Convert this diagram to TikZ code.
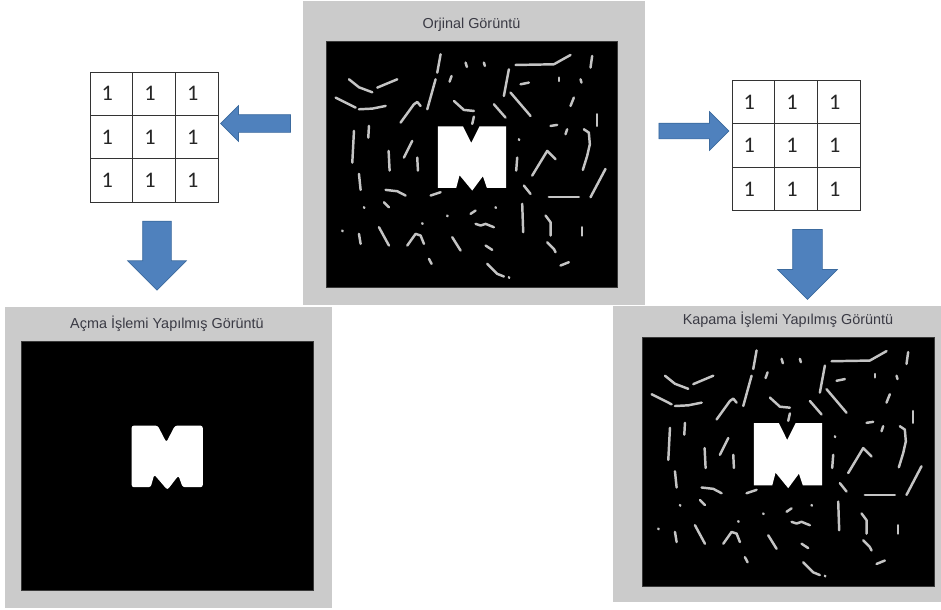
\documentclass[tikz,border=0pt]{standalone}
\usepackage{fontspec}
\setmainfont{Liberation Sans}
\newfontfamily\digitfont{Carlito}
\usetikzlibrary{shapes.arrows, matrix, positioning}

\definecolor{panelgray}{HTML}{CBCBCB}
\definecolor{arrowblue}{HTML}{4F81BD}
\definecolor{arrowedge}{HTML}{3B6A9E}
\definecolor{titlegray}{HTML}{3A3A44}
\definecolor{dashgray}{HTML}{C4C4C4}

\tikzset{
  panel/.style={fill=panelgray},
  photo/.style={fill=black, draw=gray!45!black, line width=0.6pt},
  title/.style={text=titlegray, font=\fontsize{12.3}{14}\selectfont, inner sep=0pt},
  blockarrow/.style={single arrow, fill=arrowblue, draw=arrowedge, line width=0.6pt,
    single arrow head indent=0pt, single arrow tip angle=90},
  cell/.style={draw=black!80, line width=0.8pt, minimum width=1.28cm, minimum height=1.3cm,
    inner sep=0pt, text=black!85, font=\digitfont\fontsize{19}{20}\selectfont,
    execute at end node=\kern0.24cm},
  kernel/.style={matrix of nodes, nodes={cell}, inner sep=0pt,
    column sep=-0.8pt, row sep=-0.8pt},
  noisedash/.style={draw=dashgray, line width=2.1pt, line cap=round, line join=round}
}

% white strokes of the test picture
\newcommand{\drawnoise}{%
  \draw[noisedash] (178,238)--(208,262)--(248,277);
  \draw[noisedash] (263,263)--(323,238);
  \draw[noisedash] (138,293)--(198,323);
  \draw[noisedash] (208,328)--(248,326)--(288,318);
  \draw[noisedash] (333,368)--(373,313)--(383,306)--(393,318);
  \draw[noisedash] (453,163)--(443,218);
  \draw[noisedash] (438,238)--(413,328);
  \draw[noisedash] (480,245)--(486,228);
  \draw[noisedash] (528,188)--(532,201);
  \draw[noisedash] (583,188)--(586,198);
  \draw[noisedash] (493,303)--(523,330)--(553,333);
  \draw[noisedash] (553,350)--(548,372);
  \draw[noisedash] (193,393)--(188,488);
  \draw[noisedash] (208,522)--(213,570);
  \draw[noisedash] (238,378)--(236,413);
  \draw[noisedash] (368,423)--(343,473);
  \draw[noisedash] (297,453)--(300,512);
  \draw[noisedash] (383,473)--(385,512);
  \draw[noisedash] (288,570)--(323,574)--(348,587);
  \draw[noisedash] (423,587)--(453,577);
  \draw[noisedash] (223,622)--(224,624);
  \draw[noisedash] (283,607)--(298,622);
  \draw[noisedash] (158,692)--(159,694);
  \draw[noisedash] (208,702)--(213,732);
  \draw[noisedash] (268,682)--(298,737);
  \draw[noisedash] (353,737)--(378,702)--(393,707)--(403,732);
  \draw[noisedash] (398,670)--(399,672);
  \draw[noisedash] (418,777)--(426,792);
  \draw[noisedash] (473,647)--(474,649);
  \draw[noisedash] (488,712)--(513,752);
  \draw[noisedash] (543,642)--(558,632);
  \draw[noisedash] (558,672)--(573,677)--(588,672)--(613,682);
  \draw[noisedash] (618,622)--(619,624);
  \draw[noisedash] (588,737)--(608,750);
  \draw[noisedash] (593,792)--(623,822)--(643,830);
  \draw[noisedash] (658,832)--(659,834);
  \draw[noisedash] (703,557)--(723,582);
  \draw[noisedash] (698,612)--(701,697);
  \draw[noisedash] (778,592)--(868,592);
  \draw[noisedash] (948,507)--(903,592);
  \draw[noisedash] (768,647)--(783,667)--(783,707);
  \draw[noisedash] (773,727)--(793,747)--(798,757);
  \draw[noisedash] (878,682)--(878,707);
  \draw[noisedash] (813,797)--(838,787);
  \draw[noisedash] (678,195)--(793,193)--(843,165);
  \draw[noisedash] (908,168)--(903,203);
  \draw[noisedash] (658,208)--(643,288);
  \draw[noisedash] (693,253)--(718,248);
  \draw[noisedash] (808,233)--(808,243);
  \draw[noisedash] (873,238)--(876,248);
  \draw[noisedash] (663,278)--(723,348);
  \draw[noisedash] (613,313)--(648,353);
  \draw[noisedash] (853,293)--(843,318);
  \draw[noisedash] (923,343)--(923,378);
  \draw[noisedash] (783,378)--(803,375);
  \draw[noisedash] (833,388)--(828,403);
  \draw[noisedash] (883,388)--(898,398)--(901,433)--(893,468)--(880,510);
  \draw[noisedash] (688,418)--(689,420);
  \draw[noisedash] (728,527)--(773,453)--(798,478);
  \draw[noisedash] (683,473)--(680,512);
}
% the letter M
\newcommand{\mletter}[1][0pt]{%
  \fill[white, rounded corners=#1] (445,379) -- (520,379) -- (545,429) -- (570,379)
    -- (650,379) -- (650,564) -- (592,564) -- (580,529) -- (548,572)
    -- (510,526) -- (500,564) -- (445,564) -- cycle;
}

\begin{document}
\begin{tikzpicture}[x=0.03cm, y=-0.03cm]
\useasboundingbox (0,0) rectangle (941,610);

% gray windows
\fill[panel] (303,1) rectangle (645,305);
\fill[panel] (5,307) rectangle (332,608);
\fill[panel] (613,306) rectangle (941,602);

% images
\node[photo, minimum width=8.73cm, minimum height=7.38cm] (orig) at (471.5,164) {};
\node[photo, minimum width=8.76cm, minimum height=7.47cm] (opened) at (167,465.5) {};
\node[photo, minimum width=8.76cm, minimum height=7.47cm] (closed) at (788,461.5) {};

\node[title, above=0.27cm of orig] (origtitle) {Orjinal Görüntü};
\node[title, above=0.27cm of opened] (openedtitle) {Açma İşlemi Yapılmış Görüntü};
\node[title, above=0.27cm of closed] (closedtitle) {Kapama İşlemi Yapılmış Görüntü};

\begin{scope}[shift={(orig.north west)}, x=0.01cm, y=-0.01cm, shift={(-108,-122)}]
  \drawnoise
  \mletter
\end{scope}
\begin{scope}[shift={(closed.north west)}, x=0.01cm, y=-0.0101cm, shift={(-108,-122)}]
  \drawnoise
  \mletter
\end{scope}
\begin{scope}[shift={(opened.north west)}, x=0.0104cm, y=-0.01cm, shift={(-125,-124)}]
  \mletter[2pt]
\end{scope}

% structuring elements
\matrix[kernel] (leftk) at (154,137) {1 & 1 & 1\\ 1 & 1 & 1\\ 1 & 1 & 1\\};
\matrix[kernel] (rightk) at (796,145.5) {1 & 1 & 1\\ 1 & 1 & 1\\ 1 & 1 & 1\\};

% block arrows
\node[blockarrow, rotate=180, minimum height=2.1cm, inner sep=0.255cm,
  single arrow head extend=0.27cm] (toleft) at (260,123.5) {};
\node[blockarrow, minimum height=2.1cm, inner sep=0.225cm,
  single arrow head extend=0.345cm] (toright) at (690,131) {};
\node[blockarrow, rotate=-90, minimum height=2.07cm, inner sep=0.42cm,
  single arrow head extend=0.45cm] (downleft) at (157,248.5) {};
\node[blockarrow, rotate=-90, minimum height=2.1cm, inner sep=0.435cm,
  single arrow head extend=0.45cm] (downright) at (807.5,257) {};
\end{tikzpicture}
\end{document}
